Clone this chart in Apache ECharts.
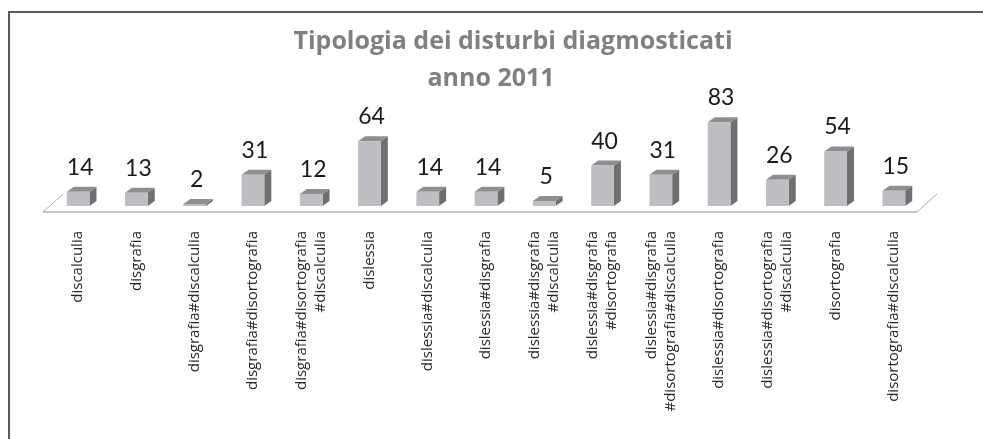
<!DOCTYPE html>
<html>
<head>
<meta charset="utf-8">
<script src="https://cdn.jsdelivr.net/npm/echarts@6/dist/echarts.min.js"></script>
<style>
  html, body { margin: 0; padding: 0; background: #fff; }
  #main { width: 983px; height: 439px; }
</style>
</head>
<body>
<div id="main"></div>
<script>
// categorie (con a capo come nell'originale)
const categories = [
  'discalculia',
  'disgrafia',
  'disgrafia#discalculia',
  'disgrafia#disortografia',
  'disgrafia#disortografia\n#discalculia',
  'dislessia',
  'dislessia#discalculia',
  'dislessia#disgrafia',
  'dislessia#disgrafia\n#discalculia',
  'dislessia#disgrafia\n#disortografia',
  'dislessia#disgrafia\n#disortografia#discalculia',
  'dislessia#disortografia',
  'dislessia#disortografia\n#discalculia',
  'disortografia',
  'disortografia#discalculia'
]
const values = [14, 13, 2, 31, 12, 64, 14, 14, 5, 40, 31, 83, 26, 54, 15]
const titleLines = ['Tipologia dei disturbi diagmosticati', 'anno 2011']

const chart = echarts.init(document.getElementById('main'))

// profondità finta 3D
const DX = 7, DY = -5

function renderBar(params, api) {
  const idx = api.value(0)
  const v = api.value(1)
  const top = api.coord([idx, v])
  const base = api.coord([idx, 0])
  const bw = api.size([1, 0])[0] * 0.39
  const x0 = base[0] - bw / 2
  const x1 = base[0] + bw / 2
  return {
    type: 'group',
    children: [
      {
        type: 'polygon',
        shape: { points: [[x1, base[1]], [x1 + DX, base[1] + DY], [x1 + DX, top[1] + DY], [x1, top[1]]] },
        style: { fill: '#6f6f6f' }
      },
      {
        type: 'polygon',
        shape: { points: [[x0, top[1]], [x1, top[1]], [x1 + DX, top[1] + DY], [x0 + DX, top[1] + DY]] },
        style: { fill: '#8e8e8e' }
      },
      {
        type: 'rect',
        shape: { x: x0, y: top[1], width: bw, height: base[1] - top[1] },
        style: { fill: '#bdbec1' }
      },
      {
        type: 'text',
        style: {
          text: String(v),
          x: base[0] + 2,
          y: top[1] + DY - 8,
          align: 'center',
          verticalAlign: 'bottom',
          fontFamily: 'Lato',
          fontSize: 23,
          fill: '#1a1a1a'
        }
      }
    ]
  }
}

function renderFloor(params, api) {
  const cs = params.coordSys
  const zeroY = api.coord([0, 0])[1]
  const fy = zeroY + 6
  const lx = cs.x - 6
  const rx = cs.x + cs.width - 6
  return {
    type: 'group',
    children: [
      { type: 'line', shape: { x1: lx, y1: fy, x2: rx, y2: fy }, style: { stroke: '#c4c4c4', lineWidth: 2 } },
      { type: 'line', shape: { x1: lx, y1: fy, x2: lx + 20, y2: fy - 18 }, style: { stroke: '#a8a8a8', lineWidth: 1 } },
      { type: 'line', shape: { x1: rx, y1: fy, x2: rx + 20, y2: fy - 18 }, style: { stroke: '#a8a8a8', lineWidth: 1 } }
    ]
  }
}

const titleStyle = { fontFamily: 'Open Sans', fontWeight: 'bold', fontSize: 25, color: '#808080' }

const option = {
  animation: false,
  title: [
    { text: titleLines[0], left: 508, top: 24, textAlign: 'center', textStyle: titleStyle },
    { text: titleLines[1], left: 486, top: 61, textAlign: 'center', textStyle: titleStyle }
  ],
  graphic: [
    {
      type: 'rect',
      shape: { x: 9, y: 12, width: 1000, height: 460 },
      style: { fill: 'none', stroke: '#5a5a5a', lineWidth: 2 },
      silent: true
    }
  ],
  grid: { left: 49, right: 60, top: 105, bottom: 233 },
  xAxis: {
    type: 'category',
    data: categories,
    axisLine: { show: false },
    axisTick: { show: false },
    axisLabel: {
      interval: 0,
      rotate: 90,
      margin: 25,
      fontFamily: 'Open Sans',
      fontSize: 15,
      lineHeight: 19,
      color: '#262626'
    }
  },
  yAxis: {
    type: 'value',
    min: 0,
    max: 100,
    show: false
  },
  series: [
    {
      type: 'custom',
      renderItem: renderFloor,
      data: [[0, 0]],
      silent: true,
      z: 1
    },
    {
      type: 'custom',
      renderItem: renderBar,
      data: values.map((v, i) => [i, v]),
      z: 2
    }
  ]
}

chart.setOption(option)
</script>
</body>
</html>
